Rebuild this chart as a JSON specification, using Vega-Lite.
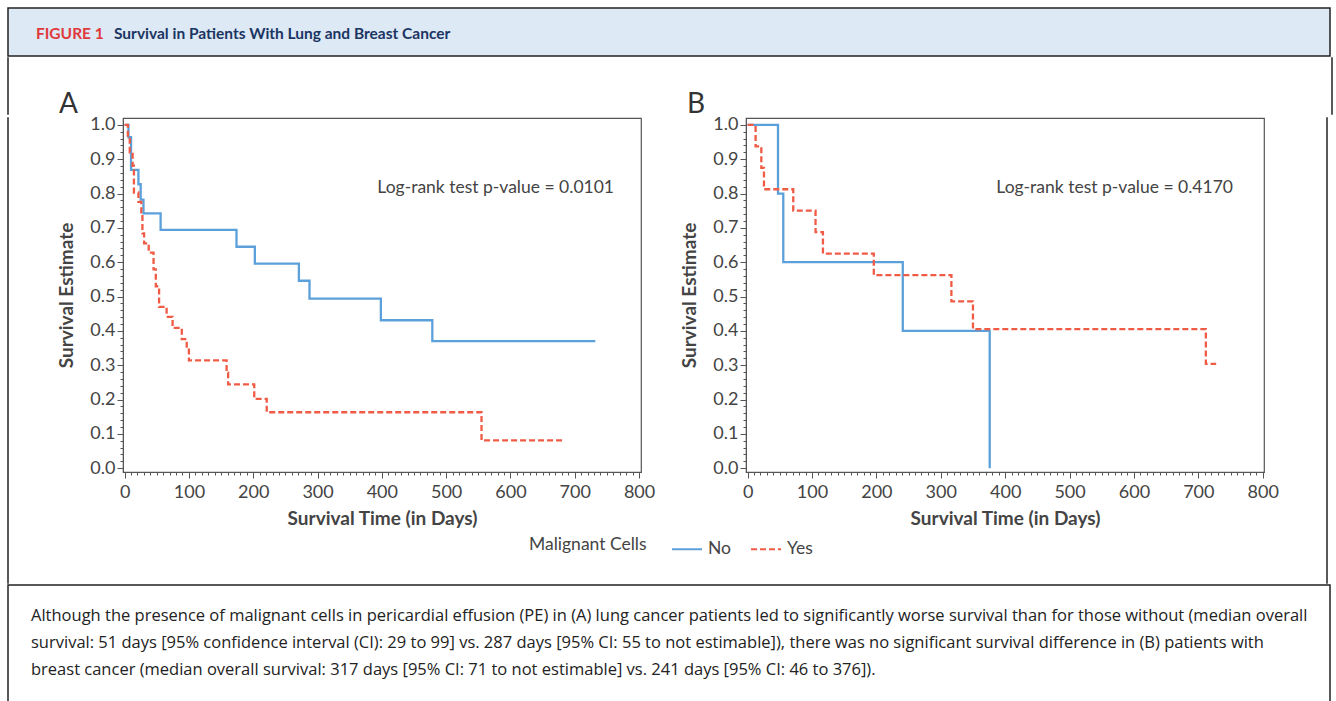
{
  "$schema": "https://vega.github.io/schema/vega-lite/v6.json",
  "padding": {"left": 7, "top": 7, "right": 0, "bottom": 0},
  "background": "white",
  "spacing": 0,
  "config": {
    "font": "Lato",
    "view": {"stroke": null},
    "axis": {"grid": false, "domainColor": "#555", "tickColor": "#555", "labelColor": "#444", "titleColor": "#444", "labelFont": "Lato", "titleFont": "Lato"}
  },
  "resolve": {"scale": {"color": "shared", "strokeDash": "shared"}},
  "vconcat": [
    {
      "width": 1322,
      "height": 48,
      "view": {"fill": "#dde9f5", "stroke": "#222", "strokeWidth": 1.5},
      "layer": [
        {
          "data": {"values": [{"label": "FIGURE 1"}]},
          "mark": {"type": "text", "align": "left", "baseline": "middle", "font": "Lato", "fontWeight": "bold", "fontSize": 15.5, "color": "#e0393c"},
          "encoding": {"text": {"field": "label"}, "x": {"value": 28}, "y": {"value": 26}}
        },
        {
          "data": {"values": [{"label": "Survival in Patients With Lung and Breast Cancer"}]},
          "mark": {"type": "text", "align": "left", "baseline": "middle", "font": "Lato", "fontWeight": "bold", "fontSize": 15.5, "color": "#1b3563"},
          "encoding": {"text": {"field": "label"}, "x": {"value": 106}, "y": {"value": 26}}
        }
      ]
    },
    {
      "spacing": 0,
      "bounds": "full",
      "hconcat": [
        {"width": 0.001, "height": 56, "data": {"values": []}, "mark": "point", "view": {"stroke": "#222", "strokeWidth": 1.5}},
        {
          "width": 1322,
          "height": 56,
          "layer": [
            {
              "data": {"values": [{"label": "A"}]},
              "mark": {"type": "text", "align": "left", "baseline": "alphabetic", "font": "Lato", "fontSize": 28, "color": "#333", "clip": true},
              "encoding": {"text": {"field": "label"}, "x": {"value": 50}, "y": {"value": 55}}
            },
            {
              "data": {"values": [{"label": "B"}]},
              "mark": {"type": "text", "align": "left", "baseline": "alphabetic", "font": "Lato", "fontSize": 28, "color": "#333", "clip": true},
              "encoding": {"text": {"field": "label"}, "x": {"value": 678}, "y": {"value": 55}}
            }
          ]
        },
        {"width": 0.001, "height": 56, "data": {"values": []}, "mark": "point", "view": {"stroke": "#222", "strokeWidth": 1.5}}
      ]
    },
    {
      "spacing": 0,
      "bounds": "full",
      "hconcat": [
        {"width": 0.001, "height": 465, "data": {"values": []}, "mark": "point", "view": {"stroke": "#222", "strokeWidth": 1.5}},
        {"width": 48, "height": 1, "data": {"values": []}, "mark": "point"},
        {
          "width": 518,
          "height": 354,
          "view": {"stroke": "#555", "strokeWidth": 1.2},
          "resolve": {"axis": {"x": "independent", "y": "independent"}},
          "layer": [
            {
              "data": {"values": [
                {"group": "No", "day": 0, "surv": 1},
                {"group": "No", "day": 6, "surv": 0.964},
                {"group": "No", "day": 10, "surv": 0.869},
                {"group": "No", "day": 21.5, "surv": 0.827},
                {"group": "No", "day": 25, "surv": 0.782},
                {"group": "No", "day": 29.3, "surv": 0.742},
                {"group": "No", "day": 56, "surv": 0.694},
                {"group": "No", "day": 174, "surv": 0.645},
                {"group": "No", "day": 202.5, "surv": 0.596},
                {"group": "No", "day": 271, "surv": 0.546},
                {"group": "No", "day": 287.5, "surv": 0.494},
                {"group": "No", "day": 398.5, "surv": 0.431},
                {"group": "No", "day": 478.5, "surv": 0.37},
                {"group": "No", "day": 732, "surv": 0.37},
                {"group": "Yes", "day": 0, "surv": 1},
                {"group": "Yes", "day": 5, "surv": 0.969},
                {"group": "Yes", "day": 8, "surv": 0.92},
                {"group": "Yes", "day": 12.5, "surv": 0.881},
                {"group": "Yes", "day": 14.5, "surv": 0.803},
                {"group": "Yes", "day": 21.5, "surv": 0.776},
                {"group": "Yes", "day": 26, "surv": 0.745},
                {"group": "Yes", "day": 27.7, "surv": 0.684},
                {"group": "Yes", "day": 30.3, "surv": 0.655},
                {"group": "Yes", "day": 37.5, "surv": 0.628},
                {"group": "Yes", "day": 45, "surv": 0.579},
                {"group": "Yes", "day": 48.5, "surv": 0.53},
                {"group": "Yes", "day": 53.6, "surv": 0.47},
                {"group": "Yes", "day": 65.3, "surv": 0.441},
                {"group": "Yes", "day": 74.6, "surv": 0.409},
                {"group": "Yes", "day": 88.9, "surv": 0.376},
                {"group": "Yes", "day": 96.6, "surv": 0.345},
                {"group": "Yes", "day": 100, "surv": 0.314},
                {"group": "Yes", "day": 158.6, "surv": 0.278},
                {"group": "Yes", "day": 161, "surv": 0.244},
                {"group": "Yes", "day": 201.6, "surv": 0.202},
                {"group": "Yes", "day": 221, "surv": 0.163},
                {"group": "Yes", "day": 555, "surv": 0.081},
                {"group": "Yes", "day": 682, "surv": 0.081}
              ]},
              "mark": {"type": "line", "interpolate": "step-after", "strokeWidth": 2.3},
              "encoding": {
                "x": {"field": "day", "type": "quantitative", "scale": {"domain": [-2.5, 803], "nice": false, "zero": false},
                  "axis": {"orient": "bottom", "title": "Survival Time (in Days)", "values": [0,100,200,300,400,500,600,700,800], "tickSize": 6,
                    "labelFlush": false, "labelOverlap": false, "labelFontSize": 18, "labelPadding": 5,
                    "titleFontSize": 19, "titleFontWeight": "bold", "titlePadding": 8}},
                "y": {"field": "surv", "type": "quantitative", "scale": {"domain": [-0.011, 1.02], "nice": false, "zero": false},
                  "axis": {"orient": "left", "title": "Survival Estimate", "values": [0,0.1,0.2,0.3,0.4,0.5,0.6,0.7,0.8,0.9,1], "format": ".1f", "tickSize": 6,
                    "labelOverlap": false, "labelFontSize": 18, "labelPadding": 2,
                    "titleFontSize": 19, "titleFontWeight": "bold", "titlePadding": 13}},
                "color": {"field": "group", "type": "nominal", "title": "Malignant Cells", "scale": {"domain": ["No", "Yes"], "range": ["#5ba0da", "#ef5b45"]},
                  "legend": {"orient": "none", "legendX": 521, "legendY": 525, "direction": "horizontal", "titleOrient": "left", "titleFontSize": 17.5, "titleFontWeight": "normal", "titleColor": "#444", "labelFontSize": 17.5, "labelColor": "#444", "symbolType": "stroke", "symbolSize": 900, "symbolStrokeWidth": 2, "titlePadding": 24, "columnPadding": 15, "labelOffset": 5, "padding": 0}},
                "strokeDash": {"field": "group", "type": "nominal", "title": "Malignant Cells", "scale": {"domain": ["No", "Yes"], "range": [[1, 0], [6, 3]]},
                  "legend": {"orient": "none", "legendX": 521, "legendY": 525, "direction": "horizontal", "titleOrient": "left", "titleFontSize": 17.5, "titleFontWeight": "normal", "titleColor": "#444", "labelFontSize": 17.5, "labelColor": "#444", "symbolType": "stroke", "symbolSize": 900, "symbolStrokeWidth": 2, "titlePadding": 24, "columnPadding": 15, "labelOffset": 5, "padding": 0}}
              }
            },
            {
              "data": {"values": [{"day": 577, "surv": 0.815, "label": "Log-rank test p-value = 0.0101"}]},
              "mark": {"type": "text", "fontSize": 17.5, "color": "#444", "align": "center", "baseline": "middle", "font": "Lato"},
              "encoding": {
                "x": {"field": "day", "type": "quantitative",
                  "axis": {"orient": "bottom", "title": null, "values": [0,10,20,30,40,50,60,70,80,90,100,110,120,130,140,150,160,170,180,190,200,210,220,230,240,250,260,270,280,290,300,310,320,330,340,350,360,370,380,390,400,410,420,430,440,450,460,470,480,490,500,510,520,530,540,550,560,570,580,590,600,610,620,630,640,650,660,670,680,690,700,710,720,730,740,750,760,770,780,790,800], "labels": false, "domain": false, "tickSize": 3}},
                "y": {"field": "surv", "type": "quantitative",
                  "axis": {"orient": "left", "title": null, "values": [0,0.02,0.04,0.06,0.08,0.1,0.12,0.14,0.16,0.18,0.2,0.22,0.24,0.26,0.28,0.3,0.32,0.34,0.36,0.38,0.4,0.42,0.44,0.46,0.48,0.5,0.52,0.54,0.56,0.58,0.6,0.62,0.64,0.66,0.68,0.7,0.72,0.74,0.76,0.78,0.8,0.82,0.84,0.86,0.88,0.9,0.92,0.94,0.96,0.98,1], "labels": false, "domain": false, "tickSize": 3}},
                "text": {"field": "label"}
              }
            }
          ]
        },
        {"width": 24, "height": 1, "data": {"values": []}, "mark": "point"},
        {
          "width": 518,
          "height": 354,
          "view": {"stroke": "#555", "strokeWidth": 1.2},
          "resolve": {"axis": {"x": "independent", "y": "independent"}},
          "layer": [
            {
              "data": {"values": [
                {"group": "No", "day": 0, "surv": 1},
                {"group": "No", "day": 47.2, "surv": 0.8},
                {"group": "No", "day": 55.4, "surv": 0.6},
                {"group": "No", "day": 241, "surv": 0.4},
                {"group": "No", "day": 376, "surv": 0},
                {"group": "Yes", "day": 0, "surv": 1},
                {"group": "Yes", "day": 12.4, "surv": 0.9375},
                {"group": "Yes", "day": 21.3, "surv": 0.875},
                {"group": "Yes", "day": 25.4, "surv": 0.8125},
                {"group": "Yes", "day": 70.9, "surv": 0.75},
                {"group": "Yes", "day": 105.5, "surv": 0.6875},
                {"group": "Yes", "day": 117, "surv": 0.625},
                {"group": "Yes", "day": 196, "surv": 0.5625},
                {"group": "Yes", "day": 316.5, "surv": 0.486},
                {"group": "Yes", "day": 350, "surv": 0.405},
                {"group": "Yes", "day": 711.7, "surv": 0.304},
                {"group": "Yes", "day": 727.7, "surv": 0.304}
              ]},
              "mark": {"type": "line", "interpolate": "step-after", "strokeWidth": 2.3},
              "encoding": {
                "x": {"field": "day", "type": "quantitative", "scale": {"domain": [-2.5, 802], "nice": false, "zero": false},
                  "axis": {"orient": "bottom", "title": "Survival Time (in Days)", "values": [0,100,200,300,400,500,600,700,800], "tickSize": 6,
                    "labelFlush": false, "labelOverlap": false, "labelFontSize": 18, "labelPadding": 5,
                    "titleFontSize": 19, "titleFontWeight": "bold", "titlePadding": 8}},
                "y": {"field": "surv", "type": "quantitative", "scale": {"domain": [-0.011, 1.02], "nice": false, "zero": false},
                  "axis": {"orient": "left", "title": "Survival Estimate", "values": [0,0.1,0.2,0.3,0.4,0.5,0.6,0.7,0.8,0.9,1], "format": ".1f", "tickSize": 6,
                    "labelOverlap": false, "labelFontSize": 18, "labelPadding": 2,
                    "titleFontSize": 19, "titleFontWeight": "bold", "titlePadding": 13}},
                "color": {"field": "group", "type": "nominal", "title": "Malignant Cells", "scale": {"domain": ["No", "Yes"], "range": ["#5ba0da", "#ef5b45"]},
                  "legend": {"orient": "none", "legendX": 521, "legendY": 525, "direction": "horizontal", "titleOrient": "left", "titleFontSize": 17.5, "titleFontWeight": "normal", "titleColor": "#444", "labelFontSize": 17.5, "labelColor": "#444", "symbolType": "stroke", "symbolSize": 900, "symbolStrokeWidth": 2, "titlePadding": 24, "columnPadding": 15, "labelOffset": 5, "padding": 0}},
                "strokeDash": {"field": "group", "type": "nominal", "title": "Malignant Cells", "scale": {"domain": ["No", "Yes"], "range": [[1, 0], [6, 3]]},
                  "legend": {"orient": "none", "legendX": 521, "legendY": 525, "direction": "horizontal", "titleOrient": "left", "titleFontSize": 17.5, "titleFontWeight": "normal", "titleColor": "#444", "labelFontSize": 17.5, "labelColor": "#444", "symbolType": "stroke", "symbolSize": 900, "symbolStrokeWidth": 2, "titlePadding": 24, "columnPadding": 15, "labelOffset": 5, "padding": 0}}
              }
            },
            {
              "data": {"values": [{"day": 570, "surv": 0.815, "label": "Log-rank test p-value = 0.4170"}]},
              "mark": {"type": "text", "fontSize": 17.5, "color": "#444", "align": "center", "baseline": "middle", "font": "Lato"},
              "encoding": {
                "x": {"field": "day", "type": "quantitative",
                  "axis": {"orient": "bottom", "title": null, "values": [0,10,20,30,40,50,60,70,80,90,100,110,120,130,140,150,160,170,180,190,200,210,220,230,240,250,260,270,280,290,300,310,320,330,340,350,360,370,380,390,400,410,420,430,440,450,460,470,480,490,500,510,520,530,540,550,560,570,580,590,600,610,620,630,640,650,660,670,680,690,700,710,720,730,740,750,760,770,780,790,800], "labels": false, "domain": false, "tickSize": 3}},
                "y": {"field": "surv", "type": "quantitative",
                  "axis": {"orient": "left", "title": null, "values": [0,0.02,0.04,0.06,0.08,0.1,0.12,0.14,0.16,0.18,0.2,0.22,0.24,0.26,0.28,0.3,0.32,0.34,0.36,0.38,0.4,0.42,0.44,0.46,0.48,0.5,0.52,0.54,0.56,0.58,0.6,0.62,0.64,0.66,0.68,0.7,0.72,0.74,0.76,0.78,0.8,0.82,0.84,0.86,0.88,0.9,0.92,0.94,0.96,0.98,1], "labels": false, "domain": false, "tickSize": 3}},
                "text": {"field": "label"}
              }
            }
          ]
        },
        {"width": 47, "height": 1, "data": {"values": []}, "mark": "point"},
        {"width": 0.001, "height": 465, "data": {"values": []}, "mark": "point", "view": {"stroke": "#222", "strokeWidth": 1.5}}
      ]
    },
    {
      "width": 1322,
      "height": 125,
      "view": {"stroke": "#222", "strokeWidth": 1.5},
      "data": {"values": [
        {"line": 1, "text": "Although the presence of malignant cells in pericardial effusion (PE) in (A) lung cancer patients led to significantly worse survival than for those without (median overall"},
        {"line": 2, "text": "survival: 51 days [95% confidence interval (CI): 29 to 99] vs. 287 days [95% CI: 55 to not estimable]), there was no significant survival difference in (B) patients with"},
        {"line": 3, "text": "breast cancer (median overall survival: 317 days [95% CI: 71 to not estimable] vs. 241 days [95% CI: 46 to 376])."}
      ]},
      "mark": {"type": "text", "align": "left", "baseline": "middle", "fontSize": 16.5, "color": "#222", "font": "Open Sans"},
      "encoding": {
        "x": {"value": 23},
        "y": {"field": "line", "type": "quantitative", "scale": {"domain": [-0.148, 4.482], "reverse": true, "nice": false, "zero": false}, "axis": null},
        "text": {"field": "text"}
      }
    }
  ]
}
